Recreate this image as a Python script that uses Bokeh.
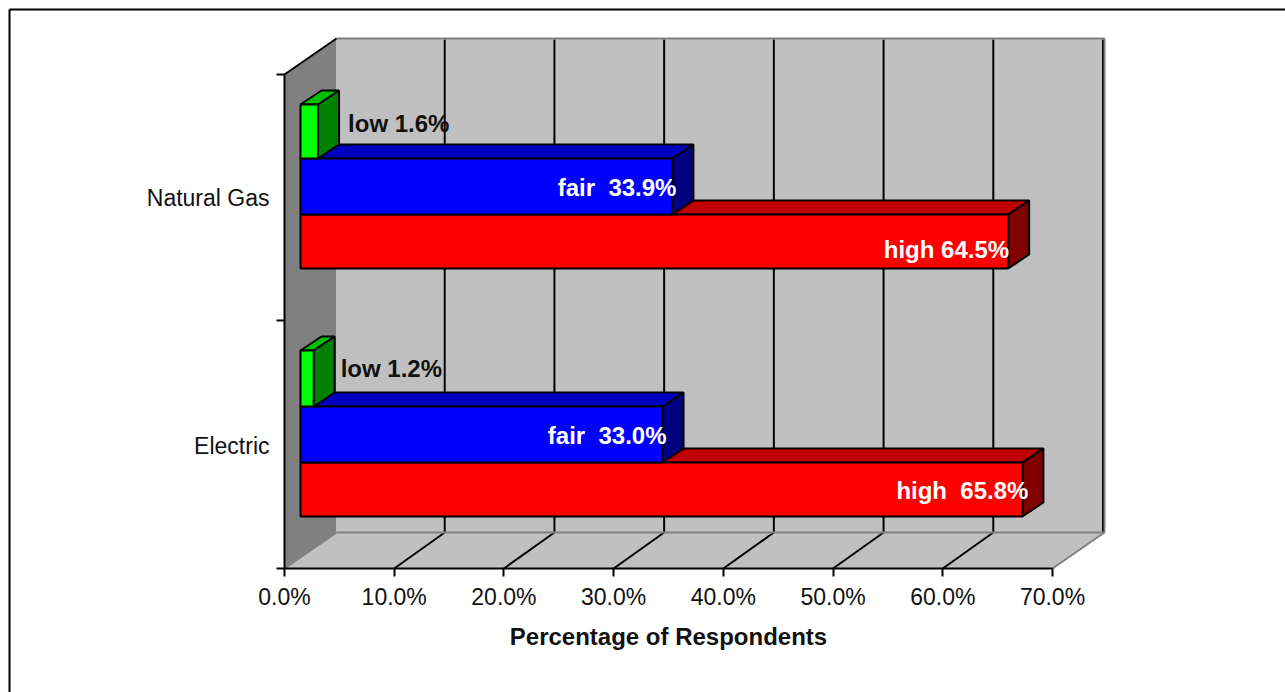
from bokeh.core.properties import value
from bokeh.embed import file_html
from bokeh.models import FixedTicker, LinearAxis, PrintfTickFormatter, Range1d
from bokeh.plotting import figure
from bokeh.resources import INLINE

# Survey results, percentage of respondents
categories = ["Natural Gas", "Electric"]
low_values = [1.6, 1.2]
fair_values = [33.9, 33.0]
high_values = [64.5, 65.8]
x_ticks = [0, 10, 20, 30, 40, 50, 60, 70]

low_labels = ["low 1.6%", "low 1.2%"]
fair_labels = ["fair\u00a0\u00a033.9%", "fair\u00a0\u00a033.0%"]
high_labels = ["high 64.5%", "high\u00a0\u00a065.8%"]

FONT = "Liberation Sans"
FONT_SIZE = "23px"
BOLD_SIZE = "24px"
WIDTH, HEIGHT = 1285, 692
AXIS_LEFT, AXIS_BOTTOM = 284, 568
PCT_PX = 768 / 70            # pixels per percentage point
px = lambda n: n / PCT_PX    # horizontal pixel distance in percent

# Vertical data units are pixels from the top of the page
WALL_TOP, WALL_FRONT_TOP, FLOOR_BACK = 38, 74, 532
WALL_DX, BAR_DX, BAR_DY = px(50.5), px(21), 14
BAR_BASE = px(16)
rows = {"low": [(104, 158), (350, 406)],
        "fair": [(158, 214), (406, 462)],
        "high": [(214, 268), (462, 516)]}

p = figure(width=WIDTH, height=HEIGHT, output_backend="svg", toolbar_location=None,
           x_range=Range1d(px(-AXIS_LEFT), px(WIDTH - AXIS_LEFT)), y_range=Range1d(HEIGHT, 0),
           x_axis_location=None, y_axis_location=None,
           min_border_left=0, min_border_right=0, min_border_top=0, min_border_bottom=0,
           outline_line_color=None, background_fill_color="white", border_fill_color="white")
p.grid.visible = False

# Page frame along the top and left edges
p.segment([px(9 - AXIS_LEFT), px(9 - AXIS_LEFT)], [9, 9], [px(WIDTH - AXIS_LEFT), px(9 - AXIS_LEFT)], [9, HEIGHT],
          line_color="black", line_width=2)

# Side wall, back wall and floor of the 3D box
wall_x = WALL_DX + px(1.5)
p.patch([0, wall_x, wall_x, 0], [WALL_FRONT_TOP, WALL_TOP, FLOOR_BACK, AXIS_BOTTOM],
        fill_color="#808080", line_color=None)
p.patch([wall_x, 70 + wall_x, 70 + wall_x, wall_x],
        [WALL_TOP, WALL_TOP, FLOOR_BACK, FLOOR_BACK], fill_color="#c0c0c0", line_color=None)
p.patch([0, wall_x, 70 + wall_x, 70], [AXIS_BOTTOM, FLOOR_BACK, FLOOR_BACK, AXIS_BOTTOM],
        fill_color="#c0c0c0", line_color=None)

# Gridlines on the back wall and across the floor
inner = x_ticks[1:]
p.segment([t + WALL_DX for t in inner], [WALL_TOP + 1] * len(inner),
          [t + WALL_DX for t in inner], [FLOOR_BACK] * len(inner),
          line_color="black", line_width=2)
floor_ticks = x_ticks[1:-1]
p.segment(floor_ticks, [AXIS_BOTTOM] * len(floor_ticks),
          [t + WALL_DX for t in floor_ticks], [FLOOR_BACK] * len(floor_ticks),
          line_color="black", line_width=2)

# Box edges in mid grey, black on the slanted top of the side wall
p.segment([wall_x, wall_x, 0, 70, 70 + wall_x],
          [WALL_TOP, FLOOR_BACK, AXIS_BOTTOM, AXIS_BOTTOM, WALL_TOP],
          [70 + wall_x, 70 + wall_x, wall_x, 70 + wall_x, 70 + wall_x],
          [WALL_TOP, FLOOR_BACK, FLOOR_BACK, FLOOR_BACK, FLOOR_BACK],
          line_color="#808080", line_width=2)
p.segment([wall_x], [WALL_TOP], [0], [WALL_FRONT_TOP], line_color="black", line_width=2)


def bar(val, top, bottom, front, roof, side):
    """One 3D bar: roof and right side behind the front face."""
    x0, x1 = BAR_BASE, BAR_BASE + val
    p.patch([x0, x1, x1 + BAR_DX, x0 + BAR_DX],
            [top, top, top - BAR_DY, top - BAR_DY],
            fill_color=roof, line_color="black", line_width=2)
    p.patch([x1, x1 + BAR_DX, x1 + BAR_DX, x1],
            [top, top - BAR_DY, bottom - BAR_DY, bottom],
            fill_color=side, line_color="black", line_width=2)
    p.quad(left=x0, right=x1, top=top, bottom=bottom,
           fill_color=front, line_color="black", line_width=2)


# Painted from the lowest bar up, so each one overlaps the roof below it
series = [(high_values, "high", "#ff0000", "#c00000", "#800000"),
          (fair_values, "fair", "#0000ff", "#0000c0", "#000080"),
          (low_values, "low", "#00ff00", "#00c000", "#008000")]
for i in range(len(categories)):
    for vals, key, front, roof, side in series:
        top, bottom = rows[key][i]
        bar(vals[i], top, bottom, front, roof, side)

# Value labels beside or inside each bar
text_style = dict(text_font=value(FONT), text_font_size=BOLD_SIZE, text_font_style="bold",
                  text_baseline="middle")
p.text(x=[BAR_BASE + v for v in low_values], y=[123, 368], text=low_labels,
       x_offset=[30, 27], text_align="left", text_color="#111111", **text_style)
p.text(x=[BAR_BASE + v for v in fair_values], y=[187, 435], text=fair_labels,
       x_offset=[4, 4], text_align="right", text_color="white", **text_style)
p.text(x=[BAR_BASE + v for v in high_values], y=[249, 490], text=high_labels,
       x_offset=[1, 6], text_align="right", text_color="white", **text_style)

# Percentage axis along the front of the floor
x_axis = LinearAxis(ticker=FixedTicker(ticks=x_ticks), bounds=(0, 70), fixed_location=AXIS_BOTTOM,
                    formatter=PrintfTickFormatter(format="%.1f%%"),
                    major_tick_in=0, major_tick_out=8, minor_tick_out=0, minor_tick_in=0,
                    major_tick_line_width=2, axis_line_width=2,
                    major_label_standoff=7, major_label_text_font=FONT,
                    major_label_text_font_size=FONT_SIZE, major_label_text_color="#111111",
                    axis_label="Percentage of Respondents", axis_label_standoff=10,
                    axis_label_text_font=FONT, axis_label_text_font_size=BOLD_SIZE,
                    axis_label_text_font_style="bold", axis_label_text_color="#111111")
p.add_layout(x_axis, "below")

# Category axis: labels centred between tick marks
y_axis = LinearAxis(ticker=FixedTicker(ticks=[197, 445], minor_ticks=[WALL_FRONT_TOP, 320, AXIS_BOTTOM]),
                    bounds=(WALL_FRONT_TOP, AXIS_BOTTOM), fixed_location=0,
                    major_label_overrides={197: categories[0], 445: categories[1]},
                    major_tick_in=0, major_tick_out=0, minor_tick_in=0, minor_tick_out=8,
                    minor_tick_line_width=2, axis_line_width=2, major_label_standoff=7,
                    major_label_orientation="horizontal", major_label_text_font=FONT,
                    major_label_text_font_size=FONT_SIZE, major_label_text_color="#111111")
p.add_layout(y_axis, "left")

open("out.html", "w").write(file_html(p, INLINE))
